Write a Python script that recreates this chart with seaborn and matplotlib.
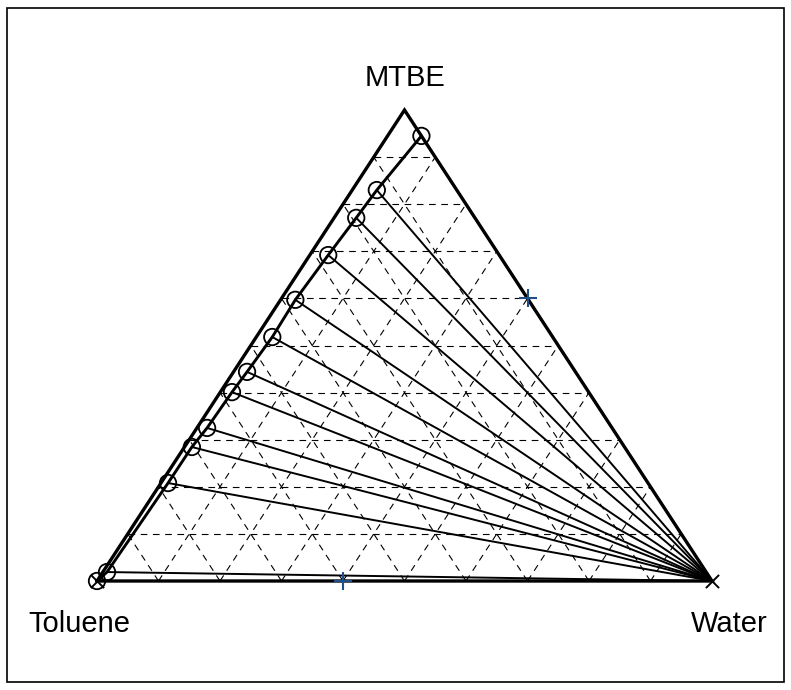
import numpy as np
import pandas as pd
import matplotlib
matplotlib.use("Agg")
import matplotlib.pyplot as plt
from matplotlib.patches import Rectangle
import seaborn as sns

sns.set_theme(style="white")
plt.rcParams["font.family"] = ["Liberation Sans", "DejaVu Sans"]
plt.rcParams["text.color"] = "black"

# Organic (MTBE-rich) phase compositions, mass fractions
org_mtbe = [0.945, 0.830, 0.771, 0.692, 0.597, 0.518, 0.444, 0.401, 0.325, 0.2845, 0.208, 0.019, 0.0]
org_water = [0.055, 0.040, 0.036, 0.030, 0.024, 0.026, 0.022, 0.019, 0.0165, 0.012, 0.0115, 0.0068, 0.0]

# Aqueous phase compositions (essentially pure water)
aq_mtbe = [0.0] * 13
aq_water = [1.0] * 13

# Extra marked compositions (MTBE, water)
feed_mtbe = [0.6, 0.0]
feed_water = [0.4, 0.4]

vertex_labels = ["Toluene", "Water", "MTBE"]


def to_xy(water, mtbe):
    water = np.asarray(water, dtype=float)
    mtbe = np.asarray(mtbe, dtype=float)
    return water + mtbe / 2.0, mtbe


W, H = 791, 690
fig = plt.figure(figsize=(W / 100, H / 100), dpi=100)
ax = fig.add_axes([97 / W, (H - 581) / H, (712 - 97) / W, (581 - 110) / H])
ax.set_xlim(0, 1)
ax.set_ylim(0, 1)
ax.axis("off")

# dashed composition grid every 10 %
grid_kw = dict(color="black", lw=0.8, ls=(0, (6, 5)), zorder=1)
for c in np.arange(0.1, 0.95, 0.1):
    # constant MTBE
    x, y = to_xy([0, 1 - c], [c, c])
    ax.plot(x, y, **grid_kw)
    # constant water
    x, y = to_xy([c, c], [0, 1 - c])
    ax.plot(x, y, **grid_kw)
    # constant toluene
    x, y = to_xy([1 - c, 0], [0, 1 - c])
    ax.plot(x, y, **grid_kw)

# triangle outline
tx, ty = to_xy([0, 1, 0, 0], [0, 0, 1, 0])
ax.plot(tx, ty, color="black", lw=2.4, zorder=3, clip_on=False, solid_joinstyle="miter")

# tie lines
ox, oy = to_xy(org_water, org_mtbe)
axx, ayy = to_xy(aq_water, aq_mtbe)
ties = pd.DataFrame({
    "x": np.concatenate([ox, axx]),
    "y": np.concatenate([oy, ayy]),
    "tie": np.concatenate([np.arange(len(ox)), np.arange(len(axx))]),
})
sns.lineplot(data=ties, x="x", y="y", units="tie", estimator=None, sort=False,
             color="black", lw=1.4, ax=ax, zorder=2, legend=False)

# binodal curve on the organic side
org = pd.DataFrame({"x": ox, "y": oy})
sns.lineplot(data=org, x="x", y="y", sort=False, estimator=None,
             color="black", lw=2.1, ax=ax, zorder=4, legend=False)
sns.scatterplot(data=org, x="x", y="y", marker="o", s=140, facecolor="none",
                edgecolor="black", linewidth=1.3, ax=ax, zorder=5, legend=False,
                clip_on=False)

# aqueous-phase end points and toluene corner
cx, cy = to_xy([1.0, 0.0], [0.0, 0.0])
ax.scatter(cx, cy, marker="x", s=90, color="black", linewidth=1.4, zorder=6, clip_on=False)

# marked compositions on the edges
fx, fy = to_xy(feed_water, feed_mtbe)
ax.scatter(fx, fy, marker="+", s=150, color="#1f4f8a", linewidth=1.5, zorder=6, clip_on=False)

ax.set_xlabel("")
ax.set_ylabel("")

# vertex labels
fig.text(405 / W, (H - 86) / H, vertex_labels[2], ha="center", va="baseline", fontsize=21)
fig.text(28 / W, (H - 632) / H, vertex_labels[0], ha="left", va="baseline", fontsize=21)
fig.text(768 / W, (H - 632) / H, vertex_labels[1], ha="right", va="baseline", fontsize=21)

# outer frame
fig.patches.append(Rectangle((7 / W, (H - 682) / H), 777 / W, 674 / H,
                             transform=fig.transFigure, fill=False,
                             edgecolor="black", lw=1.2))

fig.savefig("out.png", dpi=100)
